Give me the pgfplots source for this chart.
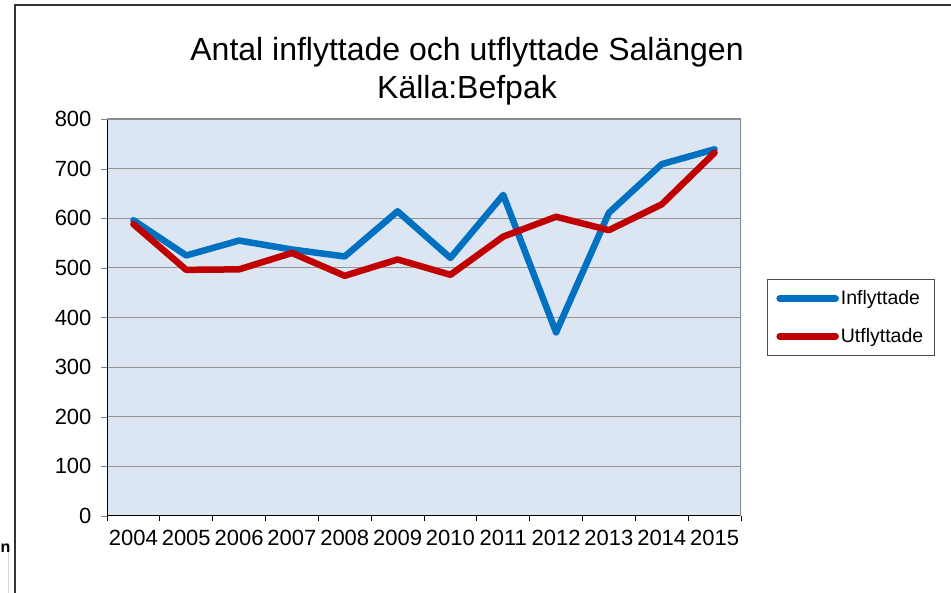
\documentclass[border=0pt]{standalone}
\usepackage{fontspec}
\setmainfont{Liberation Sans}
\usepackage{pgfplots}
\pgfplotsset{compat=1.18}

\definecolor{inflyt}{HTML}{0070C0}
\definecolor{utflyt}{HTML}{C00000}
\definecolor{plotbg}{HTML}{DCE6F2}

\begin{document}
\begin{tikzpicture}[x=1pt,y=1pt]
\path[use as bounding box] (0,0) rectangle (951,593);
% outer frame of the chart object
\draw[line width=1.2pt, black!80] (15,0) -- (15,588) -- (951,588);
\draw[black!15] (8,0) -- (8,50);
\node[font=\bfseries\fontsize{16}{16}\selectfont, anchor=west, inner sep=0pt] at (0.5,45) {n};

\begin{axis}[
    scale only axis,
    width=634pt, height=397pt,
    at={(107pt,77pt)}, anchor=south west,
    xmin=-0.5, xmax=11.5,
    ymin=0, ymax=800,
    xtick={0,...,11},
    xticklabels={2004,2005,2006,2007,2008,2009,2010,2011,2012,2013,2014,2015},
    major x tick style={draw=none},
    minor xtick={-0.5,0.5,...,11.5},
    minor x tick style={black, line width=0.8pt},
    minor tick length=5pt,
    ytick={0,100,...,800},
    major tick length=6pt,
    tick align=outside,
    tick pos=left,
    ymajorgrids=true,
    grid style={gray!85, line width=1pt},
    axis background/.style={fill=plotbg},
    axis line style={line width=1pt},
    x axis line style={black},
    separate axis lines,
    axis x line*=bottom,
    axis y line*=left,
    tick label style={font=\fontsize{22}{22}\selectfont, black},
    /pgf/number format/assume math mode=true,
    /pgf/number format/1000 sep={},
    yticklabel style={xshift=-6pt},
    xticklabel style={yshift=-5pt},
    legend style={at={(1.041,0.5)}, anchor=west, draw=black!70, line width=0.8pt,
        font=\fontsize{19.5}{19.5}\selectfont, row sep=18pt,
        inner xsep=9pt, inner ysep=9pt},
    legend cell align=left,
    legend image code/.code={\draw[#1, line cap=round] (0pt,0pt) -- (56pt,0pt);},
    title={Antal inflyttade och utflyttade Salängen\\Källa:Befpak},
    title style={align=center, font=\fontsize{32}{38}\selectfont, xshift=43pt, yshift=4pt},
]
\draw[gray!90, line width=1.2pt] (rel axis cs:0,1) -- (rel axis cs:1,1) -- (rel axis cs:1,0);
\addplot[color=inflyt, line width=6.5pt, line join=round, line cap=round] coordinates {
    (0,596)(1,525)(2,555)(3,537)(4,523)(5,614)(6,520)(7,647)(8,370)(9,611)(10,709)(11,739)
};
\addlegendentry{Inflyttade}
\addplot[color=utflyt, line width=6.5pt, line join=round, line cap=round] coordinates {
    (0,588)(1,496)(2,497)(3,530)(4,484)(5,517)(6,486)(7,563)(8,603)(9,576)(10,628)(11,732)
};
\addlegendentry{Utflyttade}
\end{axis}
\end{tikzpicture}
\end{document}
